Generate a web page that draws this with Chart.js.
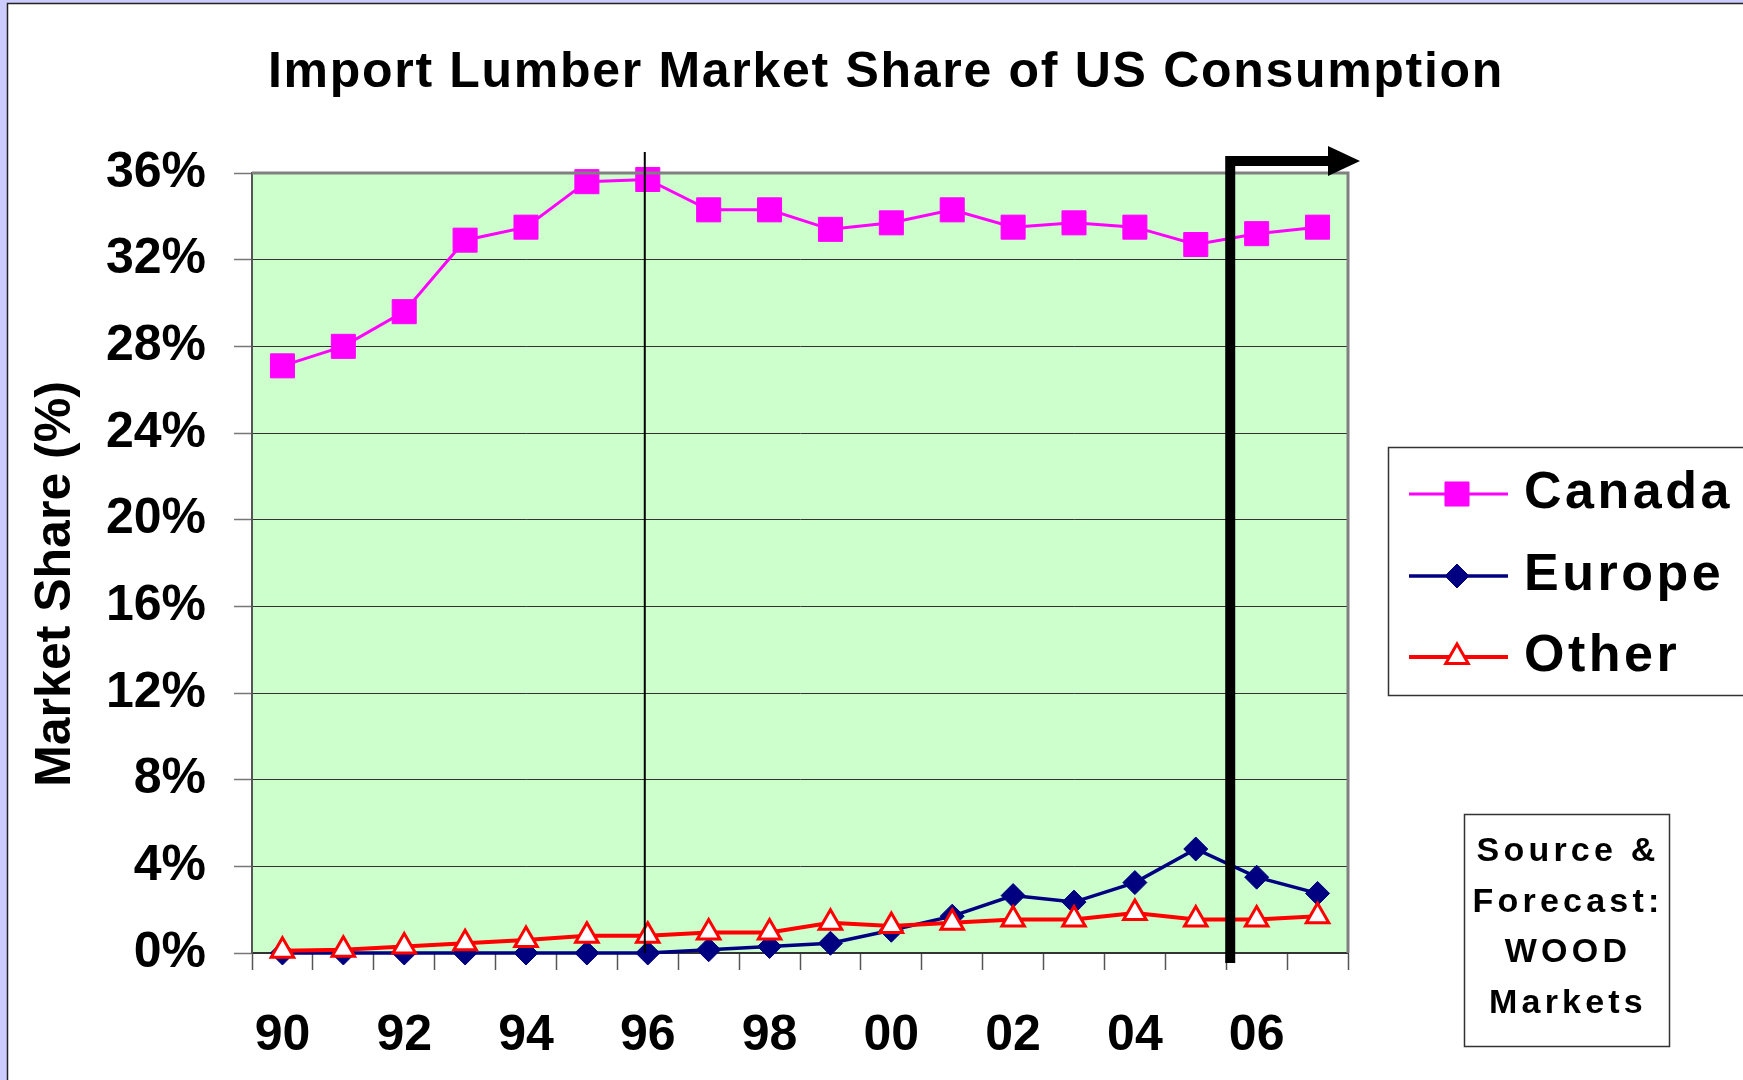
<!DOCTYPE html>
<html>
<head>
<meta charset="utf-8">
<title>Import Lumber Market Share of US Consumption</title>
<script src="https://cdn.jsdelivr.net/npm/chart.js@4"></script>
<style>
  html, body { margin: 0; padding: 0; background: #fff; }
  #wrap { width: 1743px; height: 1080px; position: relative; }
</style>
</head>
<body>
<div id="wrap"><canvas id="shareChart"></canvas></div>
<script>
// years 1990-2007, shown as two digits
const years = ["90", "91", "92", "93", "94", "95", "96", "97", "98", "99",
               "00", "01", "02", "03", "04", "05", "06", "07"];
const canada = [27.1, 28.0, 29.6, 32.9, 33.5, 35.6, 35.7, 34.3, 34.3, 33.4,
                33.7, 34.3, 33.5, 33.7, 33.5, 32.7, 33.2, 33.5];
const europe = [0, 0, 0, 0, 0, 0, 0, 0.15, 0.3, 0.45,
                1.05, 1.7, 2.65, 2.35, 3.25, 4.8, 3.5, 2.75];
const other = [0.1, 0.15, 0.3, 0.45, 0.6, 0.8, 0.8, 0.95, 0.95, 1.4,
               1.25, 1.4, 1.55, 1.55, 1.85, 1.55, 1.55, 1.7];
const yTicks = [0, 4, 8, 12, 16, 20, 24, 28, 32, 36];
const sourceLines = ["Source &", "Forecast:", "WOOD", "Markets"];

const FONT = "'Liberation Sans', Arial, sans-serif";
Chart.defaults.font.family = FONT;
Chart.defaults.color = "#000";

function boldFont(size) {
  return "bold " + size + "px " + FONT;
}

// slide decoration: frame, titles, marker lines, legend and source box
const slideDecor = {
  id: "slideDecor",
  beforeDraw(chart) {
    const ctx = chart.ctx;
    const area = chart.chartArea;
    ctx.save();
    ctx.fillStyle = "#fff";
    ctx.fillRect(0, 0, chart.width, chart.height);
    ctx.fillStyle = "#ccccff";
    ctx.fillRect(0, 0, 7, chart.height);
    ctx.fillRect(0, 0, chart.width, 3);
    ctx.strokeStyle = "#222";
    ctx.lineWidth = 1.5;
    ctx.beginPath();
    ctx.moveTo(7.5, chart.height);
    ctx.lineTo(7.5, 3.5);
    ctx.lineTo(chart.width, 3.5);
    ctx.stroke();
    // plot background
    ctx.fillStyle = "#ccffcc";
    ctx.fillRect(area.left, area.top, area.right - area.left, area.bottom - area.top);
    ctx.restore();
  },
  afterDatasetsDraw(chart) {
    const ctx = chart.ctx;
    const area = chart.chartArea;
    const xs = chart.scales.x;
    ctx.save();
    // grey frame top and right
    ctx.strokeStyle = "#808080";
    ctx.lineWidth = 3;
    ctx.beginPath();
    ctx.moveTo(area.left, area.top);
    ctx.lineTo(area.right, area.top);
    ctx.lineTo(area.right, area.bottom);
    ctx.stroke();

    // thin line at 1996
    const x96 = xs.getPixelForValue(years.indexOf("96")) - 3;
    ctx.strokeStyle = "#000";
    ctx.lineWidth = 2;
    ctx.beginPath();
    ctx.moveTo(x96, area.top - 21);
    ctx.lineTo(x96, area.bottom);
    ctx.stroke();

    // forecast arrow between 05 and 06
    const xf = (xs.getPixelForValue(years.indexOf("05")) + xs.getPixelForValue(years.indexOf("06"))) / 2 + 4;
    const ya = area.top - 12;
    ctx.lineWidth = 10;
    ctx.lineCap = "butt";
    ctx.beginPath();
    ctx.moveTo(xf, area.bottom + 10);
    ctx.lineTo(xf, ya);
    ctx.lineTo(area.right - 18, ya);
    ctx.stroke();
    ctx.fillStyle = "#000";
    ctx.beginPath();
    ctx.moveTo(area.right - 20, ya - 15);
    ctx.lineTo(area.right + 12, ya);
    ctx.lineTo(area.right - 20, ya + 15);
    ctx.closePath();
    ctx.fill();
    ctx.restore();
  },
  afterDraw(chart) {
    const ctx = chart.ctx;
    ctx.save();
    ctx.fillStyle = "#000";

    // chart title
    ctx.font = boldFont(50);
    ctx.letterSpacing = "1.7px";
    ctx.textAlign = "center";
    ctx.textBaseline = "alphabetic";
    ctx.fillText("Import Lumber Market Share of US Consumption", 886, 87);

    // y axis title
    ctx.letterSpacing = "0px";
    ctx.save();
    ctx.translate(56, 584);
    ctx.rotate(-Math.PI / 2);
    ctx.textBaseline = "middle";
    ctx.fillText("Market Share (%)", 0, 0);
    ctx.restore();

    // legend
    ctx.strokeStyle = "#333";
    ctx.lineWidth = 1.5;
    ctx.strokeRect(1388.5, 447.5, 400, 248);
    const rowY = [494, 576, 657];
    chart.data.datasets.forEach((ds, i) => {
      const y = rowY[i];
      ctx.strokeStyle = ds.borderColor;
      ctx.lineWidth = ds.borderWidth;
      ctx.beginPath();
      ctx.moveTo(1409, y);
      ctx.lineTo(1508, y);
      ctx.stroke();
      ctx.fillStyle = ds.pointBackgroundColor;
      ctx.strokeStyle = ds.pointBorderColor;
      ctx.lineWidth = ds.pointBorderWidth;
      Chart.helpers.drawPoint(ctx, {
        pointStyle: ds.pointStyle,
        radius: ds.pointRadius,
        rotation: 0,
        borderWidth: ds.pointBorderWidth
      }, 1457, y);
      ctx.fillStyle = "#000";
      ctx.font = boldFont(52);
      ctx.letterSpacing = "3.5px";
      ctx.textAlign = "left";
      ctx.textBaseline = "middle";
      ctx.fillText(ds.label, 1524, y);
    });

    // source box
    ctx.letterSpacing = "0px";
    ctx.strokeStyle = "#333";
    ctx.lineWidth = 1.5;
    ctx.strokeRect(1464.5, 814.5, 205, 232);
    ctx.fillStyle = "#000";
    ctx.font = boldFont(34);
    ctx.letterSpacing = "4.2px";
    ctx.textAlign = "center";
    ctx.textBaseline = "alphabetic";
    sourceLines.forEach((line, i) => {
      ctx.fillText(line, 1568, 861 + i * 50.5);
    });
    ctx.restore();
  }
};

const ctx = document.getElementById("shareChart").getContext("2d");
new Chart(ctx, {
  type: "line",
  data: {
    labels: years,
    datasets: [
      {
        label: "Canada",
        data: canada,
        borderColor: "#ff00ff",
        borderWidth: 3,
        pointStyle: "rect",
        pointRadius: 17,
        pointBackgroundColor: "#ff00ff",
        pointBorderColor: "#ff00ff",
        pointBorderWidth: 1,
        order: 3,
        clip: false
      },
      {
        label: "Europe",
        data: europe,
        borderColor: "#000080",
        borderWidth: 3.5,
        pointStyle: "rectRot",
        pointRadius: 12,
        pointBackgroundColor: "#000080",
        pointBorderColor: "#000080",
        pointBorderWidth: 1,
        order: 2,
        clip: false
      },
      {
        label: "Other",
        data: other,
        borderColor: "#ff0000",
        borderWidth: 4,
        pointStyle: "triangle",
        pointRadius: 13,
        pointBackgroundColor: "#ffffff",
        pointBorderColor: "#ff0000",
        pointBorderWidth: 3,
        order: 1,
        clip: false
      }
    ]
  },
  options: {
    responsive: true,
    maintainAspectRatio: false,
    animation: false,
    layout: {
      padding: { left: 0, top: 173, right: 395, bottom: 0 }
    },
    elements: {
      line: { tension: 0 }
    },
    plugins: {
      legend: { display: false },
      title: { display: false },
      tooltip: { enabled: false }
    },
    scales: {
      x: {
        type: "category",
        offset: true,
        grid: {
          offset: true,
          drawOnChartArea: false,
          drawTicks: true,
          tickLength: 17,
          tickColor: "#555",
          tickWidth: 1.5
        },
        border: { color: "#333", width: 2 },
        ticks: {
          autoSkip: false,
          maxRotation: 0,
          padding: 36,
          font: { size: 50, weight: "bold" },
          color: "#000",
          callback: (v, i) => (i % 2 === 0 ? years[i] : "")
        },
        afterFit(scale) {
          scale.height = 127;
        }
      },
      y: {
        min: yTicks[0],
        max: yTicks[yTicks.length - 1],
        grid: {
          color: "#333",
          lineWidth: 1,
          tickLength: 18,
          tickColor: "#777",
          tickWidth: 1.5
        },
        border: { color: "#555", width: 2 },
        afterBuildTicks(scale) {
          scale.ticks = yTicks.map(v => ({ value: v }));
        },
        ticks: {
          padding: 28,
          font: { size: 50, weight: "bold" },
          color: "#000",
          callback: v => v + "%"
        },
        afterFit(scale) {
          scale.width = 252;
        }
      }
    }
  },
  plugins: [slideDecor]
});
</script>
</body>
</html>
